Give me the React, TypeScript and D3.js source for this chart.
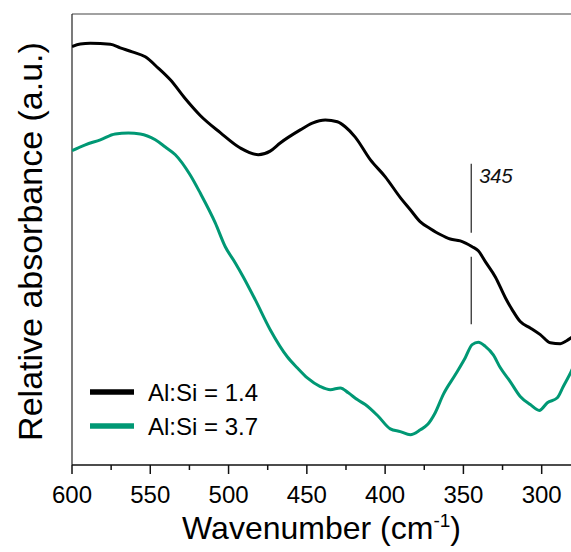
import React from "react";
import * as d3 from "d3";

const W = 571;
const H = 552;

// Black: Al:Si = 1.4
const wnBlack = [600, 594.7, 588.3, 575.5, 569.2, 561.5, 553.2, 544.9, 537.2, 527.6, 518.1, 505.3, 492.5, 481.0, 473.4, 467.0, 454.2, 446.5, 438.2, 430.5, 425.5, 419.1, 409.5, 399.9, 390.3, 383.9, 377.5, 371.1, 364.8, 358.4, 352.0, 344.4, 340.5, 336.0, 329.6, 323.2, 318.8, 313.7, 307.3, 300.9, 294.5, 288.1, 284.3, 281.2, 280];
const absBlack = [0.9275, 0.9335, 0.935, 0.933, 0.925, 0.916, 0.905, 0.880, 0.854, 0.812, 0.775, 0.737, 0.703, 0.688, 0.696, 0.714, 0.743, 0.758, 0.765, 0.761, 0.750, 0.727, 0.677, 0.639, 0.593, 0.566, 0.539, 0.524, 0.511, 0.501, 0.497, 0.484, 0.475, 0.451, 0.417, 0.371, 0.344, 0.318, 0.304, 0.289, 0.271, 0.269, 0.275, 0.282, 0.285];

// Green: Al:Si = 3.7
const wnGreen = [600, 591.5, 581.9, 572.4, 564.0, 556.4, 546.8, 540.4, 534.0, 524.5, 518.1, 508.5, 502.1, 495.7, 490.6, 482.9, 473.4, 462.5, 456.0, 449.7, 441.4, 435.0, 428.6, 423.5, 417.8, 412.7, 404.4, 396.7, 390.3, 383.9, 377.5, 373.1, 368.0, 362.9, 355.2, 348.8, 344.4, 340.5, 336.0, 330.9, 326.5, 320.1, 313.7, 307.3, 301.5, 296.4, 290.0, 286.2, 281.2, 280];
const absGreen = [0.697, 0.710, 0.721, 0.734, 0.736, 0.734, 0.721, 0.705, 0.688, 0.643, 0.603, 0.537, 0.484, 0.448, 0.417, 0.366, 0.300, 0.240, 0.215, 0.193, 0.174, 0.167, 0.171, 0.160, 0.145, 0.134, 0.108, 0.080, 0.074, 0.067, 0.078, 0.089, 0.116, 0.156, 0.200, 0.238, 0.267, 0.272, 0.263, 0.244, 0.216, 0.185, 0.152, 0.134, 0.121, 0.138, 0.149, 0.174, 0.207, 0.216];

const seriesNames = ["Al:Si = 1.4", "Al:Si = 3.7"];
const seriesColors = ["#000000", "#009874"];

const majorTicks = [600, 550, 500, 450, 400, 350, 300];
const minorTicks = [575, 525, 475, 425, 375, 325];

const markerWn = 345;
const markerLabel = "345";
const markerSegments = [
  [0.668, 0.515],
  [0.462, 0.312],
];

const FONT = "'Liberation Sans', Arial, sans-serif";

export default function App() {
  const left = 72;
  const right = 573;
  const top = 14;
  const bottom = 465;

  const x = d3.scaleLinear().domain([600, 280]).range([left, right]);
  const y = d3.scaleLinear().domain([0, 1]).range([bottom, top]);

  const line = d3
    .line<[number, number]>()
    .x((d) => x(d[0]))
    .y((d) => y(d[1]))
    .curve(d3.curveMonotoneX);

  const blackPts = wnBlack.map((w, i) => [w, absBlack[i]] as [number, number]);
  const greenPts = wnGreen.map((w, i) => [w, absGreen[i]] as [number, number]);

  const mx = x(markerWn);

  return (
    <svg
      width={W}
      height={H}
      style={{ position: "absolute", left: 0, top: 0, display: "block", background: "#fff" }}
      fontFamily={FONT}
    >
      <defs>
        <clipPath id="plot">
          <rect x={left} y={top} width={W - left} height={bottom - top} />
        </clipPath>
      </defs>

      {/* frame */}
      <line x1={left} x2={W} y1={top} y2={top} stroke="#444" strokeWidth={1.2} />
      <line x1={left} x2={left} y1={top} y2={bottom} stroke="#222" strokeWidth={1.2} />
      <line x1={left} x2={W} y1={bottom} y2={bottom} stroke="#111" strokeWidth={1.5} />

      {/* ticks */}
      {majorTicks.map((t) => (
        <g key={"M" + t}>
          <line x1={x(t)} x2={x(t)} y1={bottom} y2={bottom + 9} stroke="#111" strokeWidth={1.5} />
          <text x={x(t)} y={bottom + 38} textAnchor="middle" fontSize={24} fill="#000">
            {t}
          </text>
        </g>
      ))}
      {minorTicks.map((t) => (
        <line key={"m" + t} x1={x(t)} x2={x(t)} y1={bottom} y2={bottom + 5} stroke="#111" strokeWidth={1.5} />
      ))}

      {/* axis titles */}
      <text x={(left + W) / 2} y={539} textAnchor="middle" fontSize={32} fill="#000">
        Wavenumber (cm
        <tspan dy={-12} fontSize={19}>-1</tspan>
        <tspan dy={12}>)</tspan>
      </text>
      <text
        transform={`translate(42, ${(top + bottom) / 2 + 2}) rotate(-90)`}
        textAnchor="middle"
        fontSize={34}
        fill="#000"
      >
        Relative absorbance (a.u.)
      </text>

      {/* curves */}
      <g clipPath="url(#plot)">
        <path d={line(blackPts) || ""} fill="none" stroke={seriesColors[0]} strokeWidth={3} strokeLinejoin="round" />
        <path d={line(greenPts) || ""} fill="none" stroke={seriesColors[1]} strokeWidth={3} strokeLinejoin="round" />
      </g>

      {/* marker */}
      {markerSegments.map((s, i) => (
        <line key={i} x1={mx} x2={mx} y1={y(s[0])} y2={y(s[1])} stroke="#222" strokeWidth={1.2} />
      ))}
      <text x={mx + 8} y={y(markerSegments[0][0]) + 19} fontSize={20} fontStyle="italic" fill="#111">
        {markerLabel}
      </text>

      {/* legend */}
      {seriesNames.map((n, i) => (
        <g key={n} transform={`translate(0, ${392 + i * 34})`}>
          <line x1={90} x2={134} y1={0} y2={0} stroke={seriesColors[i]} strokeWidth={5.5} />
          <text x={148} y={9} fontSize={24} fill="#000">
            {n}
          </text>
        </g>
      ))}
    </svg>
  );
}
